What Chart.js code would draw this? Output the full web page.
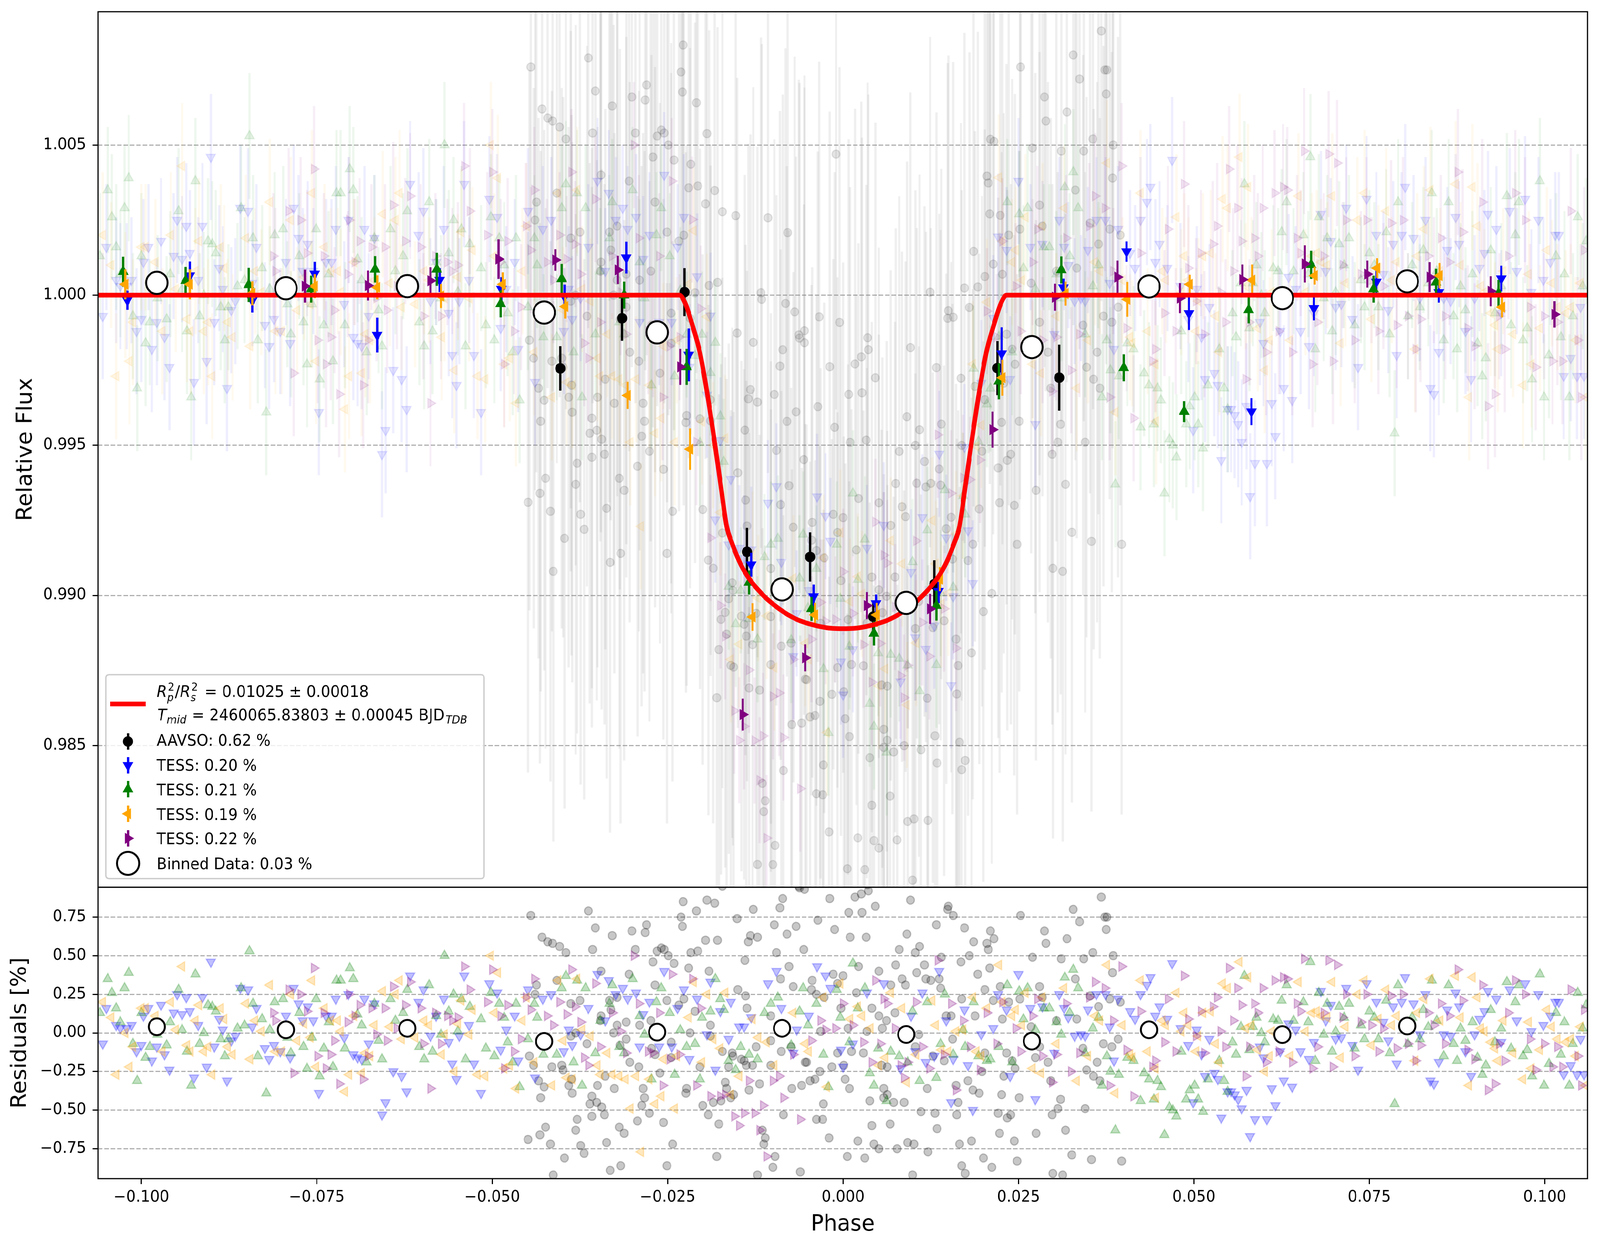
<!DOCTYPE html>
<html>
<head>
<meta charset="utf-8">
<title>Transit light curve</title>
<script src="https://cdn.jsdelivr.net/npm/chart.js@4.4.1/dist/chart.umd.min.js"></script>
<style>
  html, body { margin:0; padding:0; background:#ffffff; overflow:hidden; }
  #wrap { position:absolute; left:0; top:0; width:4250px; height:3192px; background:#ffffff; overflow:hidden; transform-origin:0 0; }
  #cTop { position:absolute; left:0; top:0; width:4250px; height:2274px; }
  #cBot { position:absolute; left:0; top:2271px; width:4250px; height:921px; }
</style>
</head>
<body>
<div id="wrap">
  <canvas id="cTop" width="4250" height="2274"></canvas>
  <canvas id="cBot" width="4250" height="921"></canvas>
</div>
<script>
// ---------------- axes ----------------
const phaseRange = [-0.1062, 0.1061];
const fluxRange  = [0.98028, 1.00944];
const residRange = [-0.9436, 0.9436];
const phaseTicks = [-0.100, -0.075, -0.050, -0.025, 0.000, 0.025, 0.050, 0.075, 0.100];
const fluxTicks  = [0.985, 0.990, 0.995, 1.000, 1.005];
const residTicks = [-0.75, -0.50, -0.25, 0.00, 0.25, 0.50, 0.75];

// ---------------- transit model ----------------
const modelPhase = [-0.1062,-0.0233,-0.0225,-0.0215,-0.0204,-0.0194,-0.0184,-0.0174,-0.0166,-0.0158,-0.0143,-0.0117,-0.0091,-0.0066,-0.0040,-0.0015,0.0000,0.0015,0.0040,0.0066,0.0091,0.0117,0.0143,0.0158,0.0166,0.0174,0.0184,0.0194,0.0204,0.0215,0.0225,0.0233,0.1061];
const modelFlux  = [1.00000,1.00000,0.99973,0.99902,0.99808,0.99678,0.99525,0.99360,0.99231,0.99172,0.99090,0.99008,0.98955,0.98920,0.98900,0.98890,0.98889,0.98890,0.98900,0.98920,0.98955,0.99008,0.99090,0.99172,0.99231,0.99360,0.99525,0.99678,0.99808,0.99902,0.99973,1.00000,1.00000];

// ---------------- binned data (white circles) ----------------
const binnedPhase = [-0.0978,-0.0794,-0.0621,-0.0426,-0.0265,-0.0087,0.0090,0.0269,0.0436,0.0626,0.0804];
const binnedFlux  = [1.00041,1.00023,1.00030,0.99942,0.99876,0.99020,0.98975,0.99827,1.00029,0.99990,1.00046];
const binnedResid = [0.040,0.020,0.030,-0.055,0.005,0.030,-0.010,-0.053,0.020,-0.011,0.045];

// ---------------- per-series binned points [phase, flux, err] ----------------
const aavsoBinned = [[-0.0403,0.99756,0.00074],[-0.0315,0.99923,0.00075],[-0.0226,1.00010,0.00080],[-0.0137,0.99145,0.00080],[-0.0047,0.99128,0.00082],[0.0043,0.98929,0.00050],[0.0130,0.99037,0.00080],[0.0220,0.99757,0.00090],[0.0308,0.99725,0.00110]];
const tessBlueBinned = [[-0.1020,0.99983,0.00032],[-0.0931,1.00065,0.00047],[-0.0842,0.99982,0.00040],[-0.0753,1.00071,0.00040],[-0.0664,0.99867,0.00058],[-0.0575,1.00050,0.00040],[-0.0487,1.00020,0.00040],[-0.0397,0.99995,0.00040],[-0.0309,1.00125,0.00053],[-0.0220,0.99801,0.00088],[-0.0131,0.99102,0.00040],[-0.0042,0.98996,0.00040],[0.0047,0.98973,0.00030],[0.0136,0.99014,0.00040],[0.0226,0.99805,0.00088],[0.0314,1.00025,0.00030],[0.0404,1.00145,0.00034],[0.0493,0.99939,0.00055],[0.0582,0.99612,0.00045],[0.0671,0.99956,0.00040],[0.0760,1.00044,0.00043],[0.0849,1.00009,0.00034],[0.0938,1.00055,0.00043]];
const tessGreenBinned = [[-0.1026,1.00078,0.00050],[-0.0937,1.00048,0.00046],[-0.0847,1.00034,0.00057],[-0.0758,1.00020,0.00045],[-0.0667,1.00086,0.00044],[-0.0579,1.00086,0.00055],[-0.0488,0.99971,0.00045],[-0.0401,1.00054,0.00050],[-0.0312,1.00000,0.00045],[-0.0223,0.99761,0.00060],[-0.0134,0.99043,0.00040],[-0.0045,0.98955,0.00040],[0.0044,0.98873,0.00040],[0.0133,0.98966,0.00050],[0.0222,0.99713,0.00060],[0.0311,1.00084,0.00045],[0.0400,0.99758,0.00045],[0.0486,0.99612,0.00035],[0.0578,0.99951,0.00045],[0.0667,1.00101,0.00047],[0.0756,1.00020,0.00045],[0.0845,1.00043,0.00045],[0.0934,1.00006,0.00045]];
const tessOrangeBinned = [[-0.1023,1.00036,0.00050],[-0.0931,1.00036,0.00050],[-0.0842,1.00006,0.00040],[-0.0753,1.00030,0.00040],[-0.0664,1.00026,0.00040],[-0.0573,0.99997,0.00040],[-0.0485,1.00036,0.00040],[-0.0396,0.99962,0.00040],[-0.0307,0.99666,0.00045],[-0.0218,0.99487,0.00069],[-0.0129,0.98928,0.00046],[-0.0040,0.98935,0.00040],[0.0048,0.98935,0.00040],[0.0138,0.99054,0.00040],[0.0227,0.99725,0.00060],[0.0317,1.00005,0.00040],[0.0405,0.99986,0.00058],[0.0494,1.00036,0.00032],[0.0583,1.00050,0.00052],[0.0672,1.00065,0.00030],[0.0761,1.00090,0.00033],[0.0850,1.00065,0.00042],[0.0939,0.99960,0.00034]];
const tessPurpleBinned = [[-0.0767,1.00030,0.00055],[-0.0677,1.00032,0.00050],[-0.0588,1.00048,0.00045],[-0.0491,1.00120,0.00066],[-0.0410,1.00117,0.00036],[-0.0321,1.00084,0.00047],[-0.0232,0.99761,0.00060],[-0.0143,0.98603,0.00053],[-0.0054,0.98792,0.00045],[0.0034,0.98966,0.00045],[0.0124,0.98955,0.00050],[0.0213,0.99552,0.00060],[0.0302,0.99993,0.00045],[0.0391,1.00060,0.00055],[0.0480,0.99990,0.00050],[0.0569,1.00052,0.00050],[0.0658,1.00104,0.00062],[0.0747,1.00070,0.00045],[0.0836,1.00060,0.00050],[0.0923,1.00013,0.00050],[0.1014,0.99936,0.00044]];

// ---------------- residuals of individual points [phase, residual %] ----------------
// (AAVSO values above ~0.94 % lie outside the residual panel and only show in the top panel)
const aavsoResid = [
[-0.0445,0.76],[-0.0429,0.62],[-0.0421,0.59],[-0.0414,0.58],[-0.0404,0.56],[-0.0395,0.52],[-0.0363,0.79],[-0.0353,0.68],[-0.0329,0.63],[-0.0357,0.54],[-0.0345,0.40],[-0.0305,0.38],[-0.0301,0.66],[-0.0280,0.70],[-0.0282,0.65],[-0.0296,0.54],[-0.0271,0.46],[-0.0265,0.53],[-0.0259,0.55],[-0.0255,0.54],[-0.0249,0.50],[-0.0241,0.45],[-0.0228,0.85],[-0.0231,0.75],[-0.0229,0.69],[-0.0209,0.79],[-0.0194,0.86],[-0.0183,0.84],[-0.0217,0.52],[-0.0207,0.53],[-0.0196,0.60],[-0.0179,0.60],[-0.0220,0.42],[-0.0191,0.40],[-0.0151,0.74],[-0.0128,0.80],[-0.0132,0.63],[-0.0122,0.62],[-0.0135,0.59],[-0.0140,0.47],[-0.0095,0.52],[-0.0098,0.70],[-0.0086,0.87],[-0.0090,0.81],[-0.0080,0.64],[-0.0067,0.69],[-0.0056,0.54],[-0.0077,0.43],[-0.0089,0.35],[-0.0062,0.94],[-0.0055,0.93],[-0.0036,0.73],[-0.0019,0.87],[-0.0012,0.67],[-0.0014,0.38],[-0.0008,0.32],[-0.0044,0.34],[-0.0071,0.30],[-0.0045,0.28],[-0.0038,0.25],[-0.0027,0.23],[-0.0003,0.16],
[-0.0408,0.34],[-0.0437,0.31],[-0.0439,0.25],[-0.0388,0.19],[-0.0375,0.21],[-0.0345,0.11],[-0.0333,0.21],[-0.0331,0.15],[-0.0322,0.23],[-0.0346,0.08],[-0.0309,0.07],[-0.0322,0.05],[-0.0290,0.05],[-0.0274,0.08],[-0.0268,0.31],[-0.0251,0.21],[-0.0234,0.18],[-0.0227,0.22],[-0.0211,0.14],[-0.0189,0.05],[-0.0150,0.28],[-0.0139,0.24],[-0.0137,0.16],[-0.0103,0.11],[-0.0032,0.01],
[0.0001,-0.21],[-0.0447,-0.15],[-0.0441,-0.21],[-0.0434,-0.31],[-0.0426,-0.35],[-0.0431,-0.42],[-0.0449,-0.69],[-0.0432,-0.66],[-0.0424,-0.61],[-0.0417,-0.72],[-0.0415,-0.22],[-0.0401,-0.21],[-0.0399,-0.24],[-0.0397,-0.81],[-0.0413,-0.92],[-0.0391,-0.34],[-0.0386,-0.39],[-0.0387,-0.30],[-0.0379,-0.56],[-0.0381,-0.63],[-0.0374,-0.73],[-0.0369,-0.78],[-0.0365,-0.07],[-0.0361,-0.46],[-0.0358,-0.41],[-0.0351,-0.45],[-0.0344,-0.48],[-0.0340,-0.53],[-0.0358,-0.54],[-0.0350,-0.34],[-0.0339,-0.28],[-0.0337,-0.71],[-0.0332,-0.89],[-0.0319,-0.61],[-0.0312,-0.65],[-0.0317,-0.86],[-0.0326,-0.36],[-0.0304,-0.19],[-0.0291,-0.22],[-0.0285,-0.36],[-0.0283,-0.42],[-0.0287,-0.47],[-0.0276,-0.52],[-0.0293,-0.57],[-0.0256,-0.58],[-0.0251,-0.86],[-0.0243,-0.72],[-0.0261,-0.26],[-0.0245,-0.16],[-0.0223,-0.36],[-0.0224,-0.39],[-0.0204,-0.22],[-0.0200,-0.47],[-0.0192,-0.53],[-0.0185,-0.45],[-0.0177,-0.59],[-0.0174,-0.44],[-0.0168,-0.32],[-0.0166,-0.36],[-0.0160,-0.42],[-0.0156,-0.40],[-0.0180,-0.80],[-0.0163,-0.22],[-0.0157,-0.15],[-0.0141,-0.18],[-0.0134,-0.37],[-0.0129,-0.21],[-0.0119,-0.33],[-0.0115,-0.63],[-0.0111,-0.68],[-0.0113,-0.72],[-0.0122,-0.92],[-0.0100,-0.87],[-0.0097,-0.80],[-0.0085,-0.53],[-0.0073,-0.36],[-0.0059,-0.34],[-0.0052,-0.19],[-0.0047,-0.31],[-0.0040,-0.30],[-0.0033,-0.25],[-0.0028,-0.46],[-0.0038,-0.56],[-0.0029,-0.56],[-0.0020,-0.68],[-0.0061,-0.90],[-0.0016,-0.22],[-0.0008,-0.13],
[-0.0309,-0.04],[-0.0268,-0.14],[-0.0172,-0.12],[-0.0138,-0.21],[-0.0124,-0.09],[-0.0103,-0.05],[-0.0088,-0.12],[-0.0074,-0.09],[-0.0054,-0.19],[-0.0388,-0.02],[-0.0381,0.00],[-0.0327,0.00],[-0.0318,-0.08],[-0.0273,-0.10],[-0.0245,-0.06],[-0.0218,0.00],[-0.0189,-0.02],[-0.0158,-0.13],[-0.0145,-0.17],[-0.0103,-0.21],
[0.0017,0.88],[0.0026,0.90],[0.0036,0.92],[0.0008,0.78],[0.0027,0.78],[0.0046,0.82],[0.0096,0.86],[0.0150,0.82],[0.0149,0.80],[0.0157,0.76],[0.0253,0.76],[0.0328,0.80],[0.0368,0.88],[0.0373,0.75],[0.0376,0.75],[0.0375,0.67],[0.0337,0.72],[0.0010,0.62],[0.0033,0.62],[0.0091,0.64],[0.0133,0.70],[0.0173,0.68],[0.0210,0.66],[0.0215,0.61],[0.0186,0.59],[0.0205,0.58],[0.0207,0.54],[0.0287,0.66],[0.0289,0.58],[0.0319,0.61],[0.0080,0.54],[0.0109,0.56],[0.0103,0.52],[0.0140,0.49],[0.0180,0.50],[0.0270,0.49],[0.0311,0.48],[0.0343,0.48],[0.0356,0.52],[0.0385,0.50],[0.0022,0.43],[0.0051,0.40],[0.0075,0.44],[0.0116,0.44],[0.0105,0.39],[0.0168,0.46],[0.0209,0.42],[0.0192,0.38],[0.0384,0.39],[0.0000,0.37],[0.0084,0.35],[0.0089,0.31],[0.0118,0.35],[0.0125,0.34],[0.0137,0.35],[0.0139,0.29],[0.0068,0.31],[0.0331,0.35],[0.0019,0.26],[0.0202,0.28],[0.0224,0.30],[0.0280,0.30],[0.0169,0.22],[0.0214,0.21],[0.0236,0.20],[0.0252,0.22],[0.0284,0.23],[0.0352,0.24],[0.0380,0.22],[0.0395,0.20],[0.0364,0.17],[0.0041,0.16],[0.0051,0.11],[0.0062,0.08],[0.0074,0.13],[0.0056,0.03],[0.0147,0.11],[0.0154,0.11],[0.0188,0.11],[0.0227,0.09],[0.0304,0.08],[0.0333,0.09],[0.0007,0.03],[0.0034,0.01],[0.0108,-0.01],[0.0156,-0.04],[0.0268,0.04],[0.0280,-0.09],[0.0371,-0.07],[0.0383,-0.09],[0.0392,-0.04],[0.0012,-0.12],[0.0029,-0.13],[0.0103,-0.09],[0.0202,-0.13],[0.0233,-0.13],[0.0274,-0.16],[0.0292,-0.19],[0.0342,-0.10],[0.0362,-0.19],[0.0063,-0.22],[0.0055,-0.21],[0.0128,-0.15],[0.0144,-0.18],[0.0241,-0.18],[0.0245,-0.23],[0.0198,-0.25],[0.0347,-0.24],[0.0003,-0.30],[0.0009,-0.36],[0.0058,-0.36],[0.0120,-0.36],[0.0178,-0.31],[0.0161,-0.34],[0.0185,-0.37],[0.0194,-0.39],[0.0229,-0.28],[0.0296,-0.31],[0.0357,-0.28],[0.0366,-0.31],[0.0058,-0.42],[0.0063,-0.40],[0.0038,-0.44],[0.0072,-0.45],[0.0087,-0.45],[0.0164,-0.45],[0.0226,-0.40],[0.0251,-0.42],[0.0310,-0.43],[0.0306,-0.49],[0.0111,-0.51],[0.0131,-0.52],[0.0162,-0.53],[0.0221,-0.52],[0.0239,-0.53],[0.0234,-0.55],[0.0298,-0.53],[0.0345,-0.49],[0.0041,-0.60],[0.0067,-0.59],[0.0134,-0.62],[0.0223,-0.65],[0.0275,-0.65],[0.0317,-0.63],[0.0021,-0.70],[0.0044,-0.72],[0.0051,-0.75],[0.0077,-0.75],[0.0092,-0.71],[0.0101,-0.72],[0.0166,-0.72],[0.0183,-0.70],[0.0244,-0.70],[0.0121,-0.77],[0.0006,-0.80],[0.0031,-0.81],[0.0200,-0.81],[0.0248,-0.83],[0.0326,-0.79],[0.0354,-0.82],[0.0397,-0.83],[0.0169,-0.86],[0.0212,-0.87],[0.0099,-0.92],[0.0174,-0.91],[0.0299,-0.91],[0.0313,-0.92],
[-0.0010,1.58],[-0.0172,0.95],[-0.0153,1.12],[-0.0107,1.27],[-0.0079,1.27],[-0.0034,1.03],[-0.0005,1.02],[-0.0117,1.00],[-0.0116,0.98],[-0.0082,1.03],[-0.0069,1.02],[-0.0063,0.95],[-0.0055,0.97],[0.0035,0.96],[0.0124,0.98]
];
const tessBlueResid = [
[-0.1055,-0.07],[-0.1050,0.16],[-0.1036,0.05],[-0.1030,0.03],[-0.1021,0.03],[-0.1014,0.05],[-0.1007,-0.12],[-0.1000,-0.08],[-0.0997,0.11],[-0.0990,0.16],[-0.0985,-0.18],[-0.0978,-0.09],[-0.0972,0.18],[-0.0967,-0.14],[-0.0960,-0.24],[-0.0954,0.13],[-0.0949,0.25],[-0.0942,0.12],[-0.0936,0.23],[-0.0931,0.14],[-0.0925,-0.29],[-0.0919,0.05],[-0.0913,0.23],[-0.0907,-0.22],[-0.0901,0.46],[-0.0896,-0.09],[-0.0889,0.09],[-0.0884,0.02],[-0.0878,-0.31],[-0.0872,-0.05],[-0.0866,-0.02],[-0.0859,0.29],[-0.0848,0.28],[-0.0842,0.04],[-0.0836,0.16],[-0.0824,-0.10],[-0.0818,-0.17],[-0.0811,-0.08],[-0.0802,-0.12],[-0.0794,0.11],[-0.0788,-0.16],[-0.0783,0.29],[-0.0776,0.19],[-0.0770,0.08],[-0.0763,0.17],[-0.0755,0.08],[-0.0747,-0.39],[-0.0737,0.11],[-0.0729,0.11],[-0.0723,0.22],[-0.0711,-0.03],[-0.0705,0.25],[-0.0698,-0.14],[-0.0692,-0.16],[-0.0686,-0.17],[-0.0682,0.22],[-0.0676,-0.07],[-0.0668,0.19],[-0.0657,-0.53],[-0.0652,-0.45],[-0.0641,-0.25],[-0.0629,-0.28],[-0.0622,-0.38],[-0.0617,0.37],[-0.0605,0.20],[-0.0598,0.28],[-0.0588,-0.02],[-0.0580,0.11],[-0.0569,0.22],[-0.0562,-0.06],[-0.0557,-0.20],[-0.0551,-0.30],[-0.0547,-0.02],[-0.0540,0.37],[-0.0533,0.05],[-0.0526,-0.20],
[-0.0516,-0.39],[-0.0504,0.32],[-0.0493,0.26],[-0.0488,-0.11],[-0.0480,0.02],[-0.0468,0.11],[-0.0463,-0.18],[-0.0449,0.28],[-0.0439,-0.29],[-0.0428,0.22],[-0.0416,0.25],[-0.0398,-0.12],[-0.0391,0.02],[-0.0386,-0.08],[-0.0374,-0.01],[-0.0363,0.16],[-0.0350,0.38],[-0.0339,0.08],[-0.0334,0.34],[-0.0324,0.25],[-0.0314,0.29],[-0.0307,0.22],[-0.0295,0.26],[-0.0290,-0.09],[-0.0285,0.12],[-0.0276,0.20],[-0.0262,-0.09],[-0.0255,0.40],[-0.0244,-0.09],[-0.0236,0.16],[-0.0227,0.28],[-0.0219,-0.17],[-0.0208,0.22],[-0.0194,-0.01],[-0.0189,0.33],[-0.0182,-0.24],[-0.0175,0.14],[-0.0163,-0.04],[-0.0160,0.20],[-0.0148,0.04],[-0.0141,0.04],[-0.0131,0.10],[-0.0107,0.32],[-0.0095,0.40],[-0.0088,0.16],[-0.0071,-0.13],[-0.0066,0.02],[-0.0049,0.11],[-0.0037,0.43],[-0.0025,0.37],[-0.0018,0.29],[-0.0003,-0.11],
[0.0000,-0.22],[0.0014,-0.07],[0.0034,0.26],[0.0058,0.32],[0.0082,-0.23],[0.0097,0.11],[0.0103,-0.12],[0.0113,0.26],[0.0137,0.40],[0.0118,-0.19],[0.0130,-0.15],[0.0147,0.08],[0.0157,-0.17],[0.0173,0.15],[0.0178,-0.21],[0.0185,-0.50],[0.0154,-0.45],[0.0197,-0.01],[0.0214,0.03],[0.0221,0.25],[0.0233,0.15],[0.0238,-0.28],[0.0250,0.38],[0.0267,0.16],[0.0274,-0.43],[0.0284,0.17],[0.0301,-0.13],[0.0308,0.25],[0.0315,0.16],[0.0321,0.10],[0.0330,-0.02],[0.0339,-0.01],[0.0345,-0.02],[0.0349,0.15],[0.0361,0.25],[0.0374,0.25],[0.0380,0.04],[0.0386,-0.18],[0.0392,0.22],[0.0409,0.14],[0.0416,0.09],[0.0424,0.25],[0.0433,0.31],[0.0438,0.36],[0.0445,0.11],[0.0451,0.17],[0.0462,0.09],[0.0469,0.45],[0.0481,0.03],[0.0492,-0.08],[0.0499,-0.45],[0.0504,0.02],[0.0511,-0.14],[0.0516,-0.28],[0.0522,-0.04],
[0.0529,-0.26],[0.0534,-0.30],[0.0539,-0.55],[0.0548,-0.38],[0.0553,-0.38],[0.0558,-0.40],[0.0563,-0.43],[0.0568,-0.49],[0.0575,-0.37],[0.0580,-0.67],[0.0587,-0.56],[0.0594,-0.09],[0.0599,-0.16],[0.0604,-0.56],[0.0611,-0.36],[0.0616,-0.47],[0.0623,-0.12],[0.0628,-0.31],[0.0635,0.06],[0.0640,-0.35],[0.0645,0.02],[0.0652,-0.12],[0.0664,-0.17],[0.0671,-0.06],[0.0681,0.27],[0.0688,0.08],[0.0695,0.18],[0.0702,-0.04],[0.0710,-0.03],[0.0717,0.29],[0.0726,-0.08],[0.0734,-0.24],[0.0746,0.32],[0.0760,0.20],[0.0770,0.07],[0.0777,-0.05],[0.0784,0.17],[0.0789,-0.20],[0.0796,0.20],[0.0801,0.36],[0.0813,0.19],[0.0822,-0.01],[0.0830,0.25],[0.0837,-0.31],[0.0842,-0.33],[0.0849,-0.19],[0.0856,-0.01],[0.0861,0.15],[0.0866,-0.02],[0.0873,0.26],[0.0878,0.17],[0.0887,-0.12],[0.0895,-0.28],[0.0900,-0.01],[0.0907,0.09],[0.0914,0.14],[0.0919,0.27],[0.0931,0.22],[0.0938,-0.06],[0.0950,0.28],[0.0960,0.08],[0.0972,0.32],[0.0981,0.01],[0.0991,0.25],[0.0998,0.05],[0.1008,0.11],[0.1015,0.20],[0.1020,0.20],[0.1027,-0.27],[0.1037,-0.21],[0.1046,-0.27],[0.1051,-0.04],[0.1056,-0.27]
];
const tessGreenResid = [
[-0.1059,0.13],[-0.1048,0.35],[-0.1042,0.26],[-0.1036,0.16],[-0.1030,0.07],[-0.1024,0.29],[-0.1018,0.39],[-0.1012,-0.07],[-0.1006,-0.31],[-0.1000,0.13],[-0.0994,-0.16],[-0.0988,-0.09],[-0.0977,-0.01],[-0.0964,-0.08],[-0.0959,0.07],[-0.0947,0.28],[-0.0942,0.02],[-0.0935,-0.12],[-0.0929,-0.34],[-0.0923,0.38],[-0.0917,-0.07],[-0.0911,0.00],[-0.0905,0.18],[-0.0899,0.17],[-0.0894,0.14],[-0.0887,-0.04],[-0.0881,-0.15],[-0.0876,-0.04],[-0.0863,0.03],[-0.0858,0.29],[-0.0853,0.05],[-0.0846,0.53],[-0.0841,0.19],[-0.0834,-0.15],[-0.0828,0.09],[-0.0822,-0.39],[-0.0817,0.02],[-0.0810,0.20],[-0.0798,0.22],[-0.0792,-0.03],[-0.0787,-0.13],[-0.0775,0.13],[-0.0769,-0.09],[-0.0764,-0.23],[-0.0757,-0.03],[-0.0751,0.22],[-0.0746,-0.28],[-0.0740,-0.10],[-0.0733,0.07],[-0.0727,-0.22],[-0.0722,0.34],[-0.0716,0.34],[-0.0710,-0.10],[-0.0703,0.42],[-0.0698,0.35],[-0.0692,0.12],[-0.0686,0.05],[-0.0679,-0.19],[-0.0668,0.19],[-0.0662,-0.05],[-0.0657,-0.17],[-0.0645,0.22],[-0.0638,0.08],[-0.0627,0.13],[-0.0621,0.28],[-0.0604,-0.09],[-0.0597,-0.17],[-0.0590,0.31],[-0.0585,-0.12],[-0.0580,0.11],[-0.0573,-0.01],[-0.0568,0.50],[-0.0562,0.14],[-0.0555,0.25],[-0.0549,0.01],[-0.0544,0.22],[-0.0538,-0.17],[-0.0532,0.17],
[-0.0516,0.09],[-0.0509,-0.10],[-0.0502,0.26],[-0.0497,-0.15],[-0.0490,0.19],[-0.0483,0.10],[-0.0478,-0.06],[-0.0471,-0.19],[-0.0466,0.19],[-0.0461,-0.35],[-0.0449,-0.04],[-0.0440,0.19],[-0.0436,0.10],[-0.0427,-0.14],[-0.0408,-0.14],[-0.0401,0.29],[-0.0395,0.37],[-0.0384,-0.19],[-0.0379,0.34],[-0.0372,-0.34],[-0.0367,0.29],[-0.0353,-0.13],[-0.0346,0.08],[-0.0333,0.19],[-0.0329,0.31],[-0.0319,-0.09],[-0.0312,-0.13],[-0.0300,0.35],[-0.0290,0.11],[-0.0283,-0.01],[-0.0273,-0.30],[-0.0266,0.20],[-0.0259,0.29],[-0.0247,0.13],[-0.0240,-0.27],[-0.0232,0.02],[-0.0223,-0.09],[-0.0211,-0.07],[-0.0204,-0.30],[-0.0201,0.10],[-0.0189,0.14],[-0.0182,0.35],[-0.0175,0.22],[-0.0170,0.15],[-0.0163,-0.18],[-0.0153,-0.24],[-0.0146,-0.09],[-0.0134,-0.14],[-0.0122,-0.17],[-0.0112,0.13],[-0.0103,0.19],[-0.0093,0.23],[-0.0074,-0.08],[-0.0062,0.14],[-0.0057,0.29],[-0.0050,0.05],[-0.0038,0.19],[-0.0028,-0.14],[-0.0021,-0.35],[-0.0009,0.28],[-0.0004,0.10],
[0.0009,-0.06],[0.0014,0.45],[0.0021,0.16],[0.0031,0.29],[0.0038,-0.26],[0.0044,-0.34],[0.0050,-0.10],[0.0062,-0.44],[0.0068,-0.12],[0.0080,-0.15],[0.0092,-0.19],[0.0099,0.14],[0.0109,-0.31],[0.0120,0.20],[0.0133,-0.29],[0.0139,-0.07],[0.0145,0.25],[0.0157,-0.14],[0.0171,0.02],[0.0174,-0.09],[0.0186,0.20],[0.0193,-0.15],[0.0205,-0.18],[0.0210,-0.17],[0.0222,-0.09],[0.0234,0.31],[0.0241,-0.19],[0.0251,0.27],[0.0257,0.09],[0.0263,0.29],[0.0274,0.02],[0.0286,0.16],[0.0294,0.16],[0.0304,0.07],[0.0311,-0.01],[0.0316,0.36],[0.0323,0.13],[0.0328,0.41],[0.0335,0.29],[0.0345,-0.13],[0.0356,0.03],[0.0364,0.10],[0.0369,-0.34],[0.0376,-0.15],[0.0381,-0.25],[0.0388,-0.63],[0.0393,-0.27],[0.0405,-0.16],[0.0414,-0.18],[0.0424,-0.44],[0.0429,-0.26],[0.0436,-0.30],[0.0443,-0.43],[0.0448,-0.31],[0.0453,-0.35],[0.0458,-0.66],[0.0465,-0.48],[0.0470,-0.50],[0.0475,-0.54],[0.0482,-0.12],[0.0489,-0.43],[0.0494,-0.37],[0.0501,-0.34],[0.0506,-0.43],[0.0513,-0.51],[0.0520,-0.30],
[0.0536,-0.18],[0.0543,-0.31],[0.0548,-0.38],[0.0555,-0.06],[0.0560,-0.14],[0.0567,0.04],[0.0572,0.37],[0.0579,-0.11],[0.0584,0.04],[0.0589,0.10],[0.0596,0.00],[0.0601,-0.06],[0.0613,0.09],[0.0620,0.08],[0.0625,0.21],[0.0632,0.31],[0.0642,0.08],[0.0656,0.20],[0.0663,0.07],[0.0666,0.46],[0.0673,-0.18],[0.0678,0.26],[0.0685,-0.01],[0.0690,0.19],[0.0697,-0.12],[0.0702,0.01],[0.0707,0.17],[0.0714,0.10],[0.0721,0.19],[0.0729,-0.10],[0.0738,0.05],[0.0743,-0.04],[0.0750,0.14],[0.0757,0.10],[0.0763,-0.04],[0.0774,0.21],[0.0779,-0.13],[0.0786,-0.46],[0.0791,0.31],[0.0805,-0.07],[0.0811,0.10],[0.0822,-0.04],[0.0827,0.15],[0.0834,0.04],[0.0839,0.34],[0.0846,0.08],[0.0856,-0.15],[0.0863,0.31],[0.0870,-0.07],[0.0875,-0.18],[0.0880,0.03],[0.0887,-0.05],[0.0897,0.07],[0.0904,-0.16],[0.0911,-0.27],[0.0916,-0.21],[0.0923,0.15],[0.0929,-0.06],[0.0938,0.03],[0.0946,0.33],[0.0952,-0.10],[0.0958,0.20],[0.0963,0.31],[0.0969,-0.15],[0.0975,-0.11],[0.0982,-0.28],[0.0993,0.38],[0.0999,-0.34],[0.1006,-0.20],[0.1016,0.13],[0.1023,-0.14],[0.1028,0.07],[0.1035,-0.34],[0.1040,-0.07],[0.1047,0.26],[0.1054,0.03],[0.1059,0.18]
];
const tessOrangeResid = [
[-0.1055,0.20],[-0.1043,0.10],[-0.1036,-0.27],[-0.1023,0.00],[-0.1017,-0.22],[-0.1012,-0.09],[-0.1000,0.16],[-0.0994,0.16],[-0.0980,0.11],[-0.0970,-0.12],[-0.0958,0.20],[-0.0951,0.02],[-0.0942,0.43],[-0.0935,-0.08],[-0.0930,-0.12],[-0.0923,0.08],[-0.0918,0.18],[-0.0911,-0.12],[-0.0905,-0.09],[-0.0899,-0.27],[-0.0887,0.16],[-0.0882,0.09],[-0.0877,-0.09],[-0.0870,-0.14],[-0.0851,0.19],[-0.0845,-0.17],[-0.0838,0.08],[-0.0829,0.01],[-0.0817,0.31],[-0.0809,-0.12],[-0.0800,-0.12],[-0.0787,0.25],[-0.0778,-0.05],[-0.0768,0.06],[-0.0759,-0.03],[-0.0757,0.34],[-0.0751,-0.22],[-0.0739,0.16],[-0.0730,0.08],[-0.0720,0.08],[-0.0716,0.01],[-0.0710,-0.38],[-0.0704,-0.27],[-0.0697,0.11],[-0.0686,-0.26],[-0.0681,-0.13],[-0.0674,-0.15],[-0.0668,0.05],[-0.0656,0.27],[-0.0646,0.04],[-0.0638,0.25],[-0.0632,0.34],[-0.0629,-0.04],[-0.0610,-0.03],[-0.0597,0.08],[-0.0590,0.05],[-0.0572,-0.14],[-0.0568,-0.01],[-0.0554,-0.25],[-0.0549,0.06],[-0.0544,0.21],[-0.0533,-0.01],
[-0.0528,0.15],[-0.0521,-0.27],[-0.0510,-0.28],[-0.0502,0.50],[-0.0497,0.13],[-0.0492,0.39],[-0.0483,-0.23],[-0.0475,-0.21],[-0.0466,-0.36],[-0.0457,0.08],[-0.0451,0.23],[-0.0440,-0.19],[-0.0415,-0.34],[-0.0406,0.34],[-0.0399,-0.05],[-0.0394,-0.29],[-0.0386,-0.30],[-0.0379,0.35],[-0.0372,0.02],[-0.0360,-0.02],[-0.0350,-0.21],[-0.0346,-0.27],[-0.0336,-0.13],[-0.0329,-0.27],[-0.0319,-0.28],[-0.0310,-0.30],[-0.0303,-0.49],[-0.0295,-0.28],[-0.0288,-0.77],[-0.0276,-0.30],[-0.0268,-0.46],[-0.0259,-0.41],[-0.0256,-0.17],[-0.0240,-0.49],[-0.0237,-0.15],[-0.0220,0.10],[-0.0213,0.33],[-0.0201,-0.19],[-0.0194,0.25],[-0.0185,-0.04],[-0.0175,-0.10],[-0.0168,0.26],[-0.0160,-0.40],[-0.0148,-0.28],[-0.0129,0.09],[-0.0121,-0.03],[-0.0109,-0.06],[-0.0098,-0.21],[-0.0071,0.13],[-0.0054,-0.07],[-0.0049,-0.12],[-0.0028,0.23],[-0.0023,-0.35],[-0.0004,0.32],
[0.0010,0.09],[0.0021,0.17],[0.0027,0.11],[0.0039,0.03],[0.0051,-0.21],[0.0060,-0.16],[0.0068,0.26],[0.0084,0.16],[0.0091,-0.32],[0.0104,-0.14],[0.0127,0.21],[0.0132,0.05],[0.0140,-0.11],[0.0150,-0.12],[0.0161,0.01],[0.0171,0.02],[0.0185,0.23],[0.0190,-0.12],[0.0197,-0.15],[0.0205,0.16],[0.0222,0.44],[0.0227,0.20],[0.0241,0.11],[0.0246,0.15],[0.0255,0.05],[0.0260,0.26],[0.0270,-0.23],[0.0282,-0.26],[0.0284,0.23],[0.0304,-0.07],[0.0315,0.29],[0.0333,-0.31],[0.0349,-0.15],[0.0359,0.11],[0.0366,0.08],[0.0376,0.44],[0.0388,-0.39],[0.0398,0.05],[0.0409,-0.14],[0.0412,-0.16],[0.0424,0.34],[0.0434,-0.12],[0.0445,-0.23],[0.0446,-0.42],[0.0455,0.08],[0.0460,0.05],[0.0475,0.26],[0.0482,0.01],[0.0486,0.13],[0.0492,0.05],[0.0503,-0.12],[0.0506,-0.02],[0.0513,0.13],
[0.0524,0.14],[0.0531,-0.07],[0.0536,-0.19],[0.0541,0.32],[0.0548,0.29],[0.0565,0.46],[0.0574,0.03],[0.0577,0.36],[0.0582,0.05],[0.0591,-0.11],[0.0601,-0.25],[0.0608,-0.15],[0.0611,0.01],[0.0637,-0.15],[0.0649,0.33],[0.0659,0.01],[0.0668,0.13],[0.0675,0.14],[0.0681,0.11],[0.0690,0.10],[0.0697,0.33],[0.0709,-0.16],[0.0716,0.04],[0.0733,0.25],[0.0743,0.34],[0.0753,-0.08],[0.0763,0.09],[0.0774,0.28],[0.0782,0.05],[0.0789,0.11],[0.0815,-0.18],[0.0818,0.13],[0.0828,0.22],[0.0837,0.35],[0.0851,0.08],[0.0873,0.37],[0.0880,0.10],[0.0892,-0.34],[0.0897,0.36],[0.0904,0.23],[0.0909,0.03],[0.0914,0.01],[0.0923,-0.06],[0.0929,-0.10],[0.0933,-0.18],[0.0941,0.08],[0.0955,-0.13],[0.0969,-0.30],[0.0977,0.07],[0.0981,-0.23],[0.0993,-0.11],[0.1003,0.15],[0.1010,0.04],[0.1018,-0.04],[0.1030,-0.06],[0.1037,-0.04],[0.1044,-0.15],[0.1051,0.04],[0.1058,-0.34]
];
const tessPurpleResid = [
[-0.0812,0.13],[-0.0809,0.08],[-0.0790,0.28],[-0.0783,-0.26],[-0.0773,0.25],[-0.0764,0.14],[-0.0754,0.42],[-0.0749,-0.15],[-0.0740,0.13],[-0.0737,-0.23],[-0.0730,-0.14],[-0.0725,-0.05],[-0.0718,-0.33],[-0.0706,0.07],[-0.0704,0.25],[-0.0696,0.11],[-0.0689,0.18],[-0.0684,-0.30],[-0.0677,-0.15],[-0.0672,0.16],[-0.0665,-0.01],[-0.0653,0.16],[-0.0650,-0.05],[-0.0641,0.30],[-0.0636,0.03],[-0.0624,0.18],[-0.0617,0.33],[-0.0602,0.16],[-0.0598,-0.07],[-0.0588,-0.36],[-0.0581,0.13],[-0.0573,-0.07],[-0.0564,0.11],[-0.0557,0.08],[-0.0549,0.10],[-0.0540,0.43],[-0.0532,0.28],
[-0.0507,0.20],[-0.0500,0.41],[-0.0488,0.11],[-0.0483,-0.23],[-0.0478,0.18],[-0.0469,-0.12],[-0.0459,-0.04],[-0.0452,0.23],[-0.0445,0.15],[-0.0440,0.35],[-0.0422,0.11],[-0.0413,0.05],[-0.0404,0.20],[-0.0394,0.12],[-0.0387,0.41],[-0.0382,0.17],[-0.0374,0.07],[-0.0369,-0.16],[-0.0363,-0.21],[-0.0353,0.32],[-0.0346,-0.09],[-0.0329,0.13],[-0.0317,0.01],[-0.0309,-0.13],[-0.0298,0.50],[-0.0291,0.19],[-0.0278,-0.12],[-0.0271,-0.13],[-0.0262,0.13],[-0.0257,-0.34],[-0.0247,-0.17],[-0.0244,0.38],[-0.0233,-0.14],[-0.0215,0.35],[-0.0209,-0.34],[-0.0203,0.16],[-0.0189,-0.41],[-0.0175,-0.41],[-0.0168,-0.40],[-0.0155,-0.54],[-0.0148,-0.60],[-0.0141,-0.52],[-0.0134,-0.31],[-0.0126,-0.52],[-0.0119,-0.63],[-0.0114,-0.47],[-0.0109,-0.80],[-0.0100,-0.31],[-0.0091,-0.28],[-0.0085,-0.42],[-0.0071,-0.14],[-0.0061,-0.56],[-0.0045,-0.05],[-0.0032,0.08],[-0.0025,0.02],[-0.0011,0.03],[0.0000,0.19],
[0.0014,0.05],[0.0029,-0.06],[0.0041,-0.19],[0.0046,0.34],[0.0053,-0.07],[0.0058,0.22],[0.0063,0.19],[0.0074,0.03],[0.0082,-0.21],[0.0087,-0.29],[0.0092,-0.19],[0.0104,0.20],[0.0113,-0.09],[0.0123,-0.23],[0.0135,0.47],[0.0144,-0.14],[0.0154,0.19],[0.0161,-0.37],[0.0171,0.08],[0.0181,-0.09],[0.0195,-0.24],[0.0205,0.13],[0.0219,-0.07],[0.0227,0.20],[0.0246,0.03],[0.0253,-0.12],[0.0270,0.11],[0.0277,0.22],[0.0284,-0.15],[0.0298,-0.32],[0.0304,-0.14],[0.0318,0.19],[0.0325,-0.25],[0.0337,-0.13],[0.0351,0.23],[0.0359,0.33],[0.0373,0.29],[0.0380,-0.34],[0.0385,0.08],[0.0397,0.43],[0.0404,-0.11],[0.0414,-0.41],[0.0424,0.14],[0.0441,-0.22],[0.0445,-0.18],[0.0458,-0.06],[0.0463,0.22],[0.0474,-0.12],[0.0486,0.37],[0.0492,0.09],[0.0503,-0.02],[0.0510,0.14],[0.0515,-0.13],
[0.0527,0.17],[0.0533,0.23],[0.0538,0.01],[0.0545,-0.09],[0.0550,0.42],[0.0556,0.08],[0.0562,0.29],[0.0568,0.18],[0.0574,-0.28],[0.0579,-0.09],[0.0586,0.19],[0.0591,0.13],[0.0598,0.29],[0.0603,-0.19],[0.0615,0.34],[0.0621,-0.12],[0.0627,0.36],[0.0633,0.35],[0.0640,-0.19],[0.0647,0.19],[0.0652,0.14],[0.0657,0.48],[0.0669,-0.23],[0.0676,-0.09],[0.0685,0.13],[0.0692,0.47],[0.0698,-0.22],[0.0704,0.44],[0.0712,0.10],[0.0717,0.25],[0.0729,-0.15],[0.0738,0.07],[0.0746,0.25],[0.0753,0.05],[0.0763,-0.12],[0.0770,0.03],[0.0781,0.24],[0.0789,-0.10],[0.0798,0.25],[0.0805,-0.07],[0.0816,-0.18],[0.0823,-0.08],[0.0834,0.13],[0.0842,0.05],[0.0852,0.19],[0.0858,-0.07],[0.0864,0.11],[0.0876,0.41],[0.0883,0.21],[0.0890,-0.11],[0.0900,-0.17],[0.0911,0.31],[0.0919,-0.37],[0.0929,-0.33],[0.0935,-0.07],[0.0943,-0.18],[0.0948,0.13],[0.0958,0.34],[0.0972,0.25],[0.0979,-0.04],[0.0987,-0.24],[0.0999,-0.07],[0.1011,-0.22],[0.1018,-0.09],[0.1025,-0.22],[0.1037,0.28],[0.1047,-0.15],[0.1052,-0.34],[0.1056,0.15]
];

// ---------------- error-bar sizes ----------------
const tessPointErr = 0.0021;                                               // faint TESS bars
const aavsoErrByPhase = [[-0.020, 0.0090], [0.020, 0.0085], [1.0, 0.0090]]; // [upper phase bound, error]

// ---------------- legend text ----------------
const legendNames = ['AAVSO: 0.62 %', 'TESS: 0.20 %', 'TESS: 0.21 %', 'TESS: 0.19 %', 'TESS: 0.22 %', 'Binned Data: 0.03 %'];
const fitText1 = ' = 0.01025 \u00b1 0.00018';
const fitText2 = ' = 2460065.83803 \u00b1 0.00045 BJD';

// ======================================================================
// fit the 4250x3192 drawing to the actual viewport
(function fitViewport() {
  const vw = document.documentElement.clientWidth || window.innerWidth || 4250;
  const vh = document.documentElement.clientHeight || window.innerHeight || 3192;
  const sx = vw / 4250, sy = vh / 3192;
  if (Math.abs(sx - 1) > 0.002 || Math.abs(sy - 1) > 0.002) {
    document.getElementById('wrap').style.transform = 'scale(' + sx + ',' + sy + ')';
  }
})();

const FONT = 'DejaVu Sans';
Chart.defaults.font.family = FONT;
Chart.defaults.color = '#000';

function rgba(c, a) { return 'rgba(' + c[0] + ',' + c[1] + ',' + c[2] + ',' + a + ')'; }
function fmt(v, d) { const s = Math.abs(v).toFixed(d); return (v < -1e-9 ? '\u2212' : '') + s; }

// observed flux = model + residual (residual in %), model taken from the plotted curve
function modelAt(x) {
  for (let i = 1; i < modelPhase.length; i++) {
    if (x <= modelPhase[i]) {
      const t = (x - modelPhase[i - 1]) / (modelPhase[i] - modelPhase[i - 1]);
      return modelFlux[i - 1] + t * (modelFlux[i] - modelFlux[i - 1]);
    }
  }
  return modelFlux[modelFlux.length - 1];
}
function aavsoErr(x) { for (const [ub, e] of aavsoErrByPhase) { if (x < ub) return e; } return aavsoErrByPhase[aavsoErrByPhase.length - 1][1]; }

const RGB = { black: [0,0,0], blue: [0,0,255], green: [0,128,0], orange: [255,165,0], purple: [128,0,128] };
const tessSeries = [
  { rgb: RGB.blue,   rot: 180, resid: tessBlueResid,   bins: tessBlueBinned },
  { rgb: RGB.green,  rot: 0,   resid: tessGreenResid,  bins: tessGreenBinned },
  { rgb: RGB.orange, rot: 270, resid: tessOrangeResid, bins: tessOrangeBinned },
  { rgb: RGB.purple, rot: 90,  resid: tessPurpleResid, bins: tessPurpleBinned }
];

function pointDs(label, pts, o) {
  return Object.assign({
    label: label, data: pts, showLine: false, clip: 0,
    pointStyle: o.style, pointRotation: o.rot || 0,
    pointRadius: o.r, pointHoverRadius: o.r,
    pointBackgroundColor: o.fill, pointBorderColor: o.edge,
    pointBorderWidth: o.bw, pointHoverBorderWidth: o.bw
  }, o.extra || {});
}

// ---------------- plugins ----------------
const errorBarPlugin = {
  id: 'errorBars',
  beforeDatasetDraw(chart, args) {
    const ds = chart.data.datasets[args.index];
    if (!ds.errBars) return;
    const ctx = chart.ctx, a = chart.chartArea, sx = chart.scales.x, sy = chart.scales.y;
    ctx.save();
    ctx.beginPath(); ctx.rect(a.left, a.top, a.right - a.left, a.bottom - a.top); ctx.clip();
    ctx.strokeStyle = ds.errBars.color; ctx.lineWidth = ds.errBars.width; ctx.lineCap = 'butt';
    ds.data.forEach((p, i) => {
      const e = ds.errBars.values[i];
      const px = sx.getPixelForValue(p.x);
      ctx.beginPath();
      ctx.moveTo(px, sy.getPixelForValue(p.y - e));
      ctx.lineTo(px, sy.getPixelForValue(p.y + e));
      ctx.stroke();
    });
    ctx.restore();
  }
};
const framePlugin = {
  id: 'frame',
  afterDatasetsDraw(chart) {
    const ctx = chart.ctx, a = chart.chartArea;
    ctx.save(); ctx.strokeStyle = '#000'; ctx.lineWidth = 3;
    ctx.strokeRect(a.left, a.top, a.right - a.left, a.bottom - a.top);
    ctx.restore();
  }
};

function marker(ctx, style, rot, r, x, y, fill, edge, bw) {
  ctx.save(); ctx.fillStyle = fill; ctx.strokeStyle = edge; ctx.lineWidth = bw;
  if (Chart.helpers && Chart.helpers.drawPoint) {
    Chart.helpers.drawPoint(ctx, { pointStyle: style, rotation: rot, radius: r, borderWidth: bw }, x, y);
  } else {
    ctx.beginPath();
    if (style === 'circle') ctx.arc(x, y, r, 0, Math.PI * 2);
    else { let rad = rot * Math.PI / 180; for (let k = 0; k < 3; k++) { const px = x + Math.sin(rad) * r, py = y - Math.cos(rad) * r; k ? ctx.lineTo(px, py) : ctx.moveTo(px, py); rad += 2 * Math.PI / 3; } ctx.closePath(); }
    ctx.fill(); if (bw > 0) ctx.stroke();
  }
  ctx.restore();
}

const legendPlugin = {
  id: 'legendBox',
  afterDraw(chart) {
    const ctx = chart.ctx;
    const bx = 281, by = 1727, bw = 1005, bh = 522, rr = 9;
    ctx.save();
    ctx.beginPath();
    ctx.moveTo(bx + rr, by); ctx.lineTo(bx + bw - rr, by); ctx.quadraticCurveTo(bx + bw, by, bx + bw, by + rr);
    ctx.lineTo(bx + bw, by + bh - rr); ctx.quadraticCurveTo(bx + bw, by + bh, bx + bw - rr, by + bh);
    ctx.lineTo(bx + rr, by + bh); ctx.quadraticCurveTo(bx, by + bh, bx, by + bh - rr);
    ctx.lineTo(bx, by + rr); ctx.quadraticCurveTo(bx, by, bx + rr, by); ctx.closePath();
    ctx.fillStyle = 'rgba(255,255,255,0.8)'; ctx.fill();
    ctx.strokeStyle = '#cccccc'; ctx.lineWidth = 3.5; ctx.stroke();

    // model line sample
    ctx.strokeStyle = 'red'; ctx.lineWidth = 12; ctx.lineCap = 'butt';
    ctx.beginPath(); ctx.moveTo(293, 1802); ctx.lineTo(387, 1802); ctx.stroke();

    ctx.fillStyle = '#000'; ctx.textBaseline = 'alphabetic'; ctx.textAlign = 'left';
    const F = '40px "' + FONT + '"', FI = 'italic 40px "' + FONT + '"';
    const S = '28px "' + FONT + '"', SI = 'italic 28px "' + FONT + '"';
    function put(t, f, x, y) { ctx.font = f; ctx.fillText(t, x, y); return x + ctx.measureText(t).width; }
    function supsub(sup, sub, x, yb) {
      ctx.font = S; const w1 = ctx.measureText(sup).width; ctx.fillText(sup, x + 2, yb - 16);
      ctx.font = SI; const w2 = ctx.measureText(sub).width; ctx.fillText(sub, x, yb + 11);
      return x + Math.max(w1 + 2, w2) + 1;
    }
    // line 1: Rp^2/Rs^2
    let y1 = 1784, x = 416;
    x = put('R', FI, x, y1); x = supsub('2', 'p', x, y1);
    x = put('/', F, x, y1);
    x = put('R', FI, x, y1); x = supsub('2', 's', x, y1);
    put(fitText1, F, x + 4, y1);
    // line 2: Tmid
    let y2 = 1844; x = 418;
    x = put('T', FI, x, y2);
    ctx.font = SI; ctx.fillText('mid', x, y2 + 8); x += ctx.measureText('mid').width;
    x = put(fitText2, F, x + 2, y2);
    ctx.font = SI; ctx.fillText('TDB', x + 2, y2 + 8);

    // series entries
    const rowsY = [1898, 1959, 2020, 2083, 2146, 2210];
    const baseY = [1909, 1973, 2036, 2099, 2161, 2225];
    const mx = 340;
    ctx.strokeStyle = '#000'; ctx.lineWidth = 6;
    ctx.beginPath(); ctx.moveTo(mx, rowsY[0] - 21); ctx.lineTo(mx, rowsY[0] + 21); ctx.stroke();
    marker(ctx, 'circle', 0, 12.5, mx, rowsY[0], '#000', '#000', 2);
    tessSeries.forEach((s, i) => {
      const c = rgba(s.rgb, 1);
      ctx.strokeStyle = c; ctx.lineWidth = 6;
      ctx.beginPath(); ctx.moveTo(mx, rowsY[i + 1] - 21); ctx.lineTo(mx, rowsY[i + 1] + 21); ctx.stroke();
      marker(ctx, 'triangle', s.rot, 14.5, mx, rowsY[i + 1], c, c, 2);
    });
    marker(ctx, 'circle', 0, 29.5, mx, rowsY[5], '#fff', '#000', 5);
    ctx.fillStyle = '#000';
    legendNames.forEach((t, i) => put(t, F, 416, baseY[i]));
    ctx.restore();
  }
};

// ---------------- top panel datasets (bottom-most first) ----------------
const topDs = [];
{
  const pts = aavsoResid.map(([px, r]) => ({ x: px, y: modelAt(px) + r / 100 }));
  topDs.push(pointDs('AAVSO points', pts, { style: 'circle', r: 10.5, fill: 'rgba(0,0,0,0.1)', edge: 'rgba(0,0,0,0.1)', bw: 3,
    extra: { errBars: { values: pts.map(p => aavsoErr(p.x)), color: 'rgba(128,128,128,0.13)', width: 6 } } }));
}
tessSeries.forEach(s => {
  const pts = s.resid.map(([px, r]) => ({ x: px, y: modelAt(px) + r / 100 }));
  topDs.push(pointDs('TESS points', pts, { style: 'triangle', rot: s.rot, r: 14, fill: rgba(s.rgb, 0.1), edge: rgba(s.rgb, 0.1), bw: 3,
    extra: { errBars: { values: pts.map(() => tessPointErr), color: rgba(s.rgb, 0.065), width: 6 } } }));
});
topDs.push(pointDs('AAVSO binned', aavsoBinned.map(b => ({ x: b[0], y: b[1] })), { style: 'circle', r: 12.5, fill: '#000', edge: '#000', bw: 2,
  extra: { errBars: { values: aavsoBinned.map(b => b[2]), color: '#000', width: 6 } } }));
tessSeries.forEach(s => {
  const c = rgba(s.rgb, 1);
  topDs.push(pointDs('TESS binned', s.bins.map(b => ({ x: b[0], y: b[1] })), { style: 'triangle', rot: s.rot, r: 14.5, fill: c, edge: c, bw: 2,
    extra: { errBars: { values: s.bins.map(b => b[2]), color: c, width: 6 } } }));
});
topDs.push({ label: 'Model', data: modelPhase.map((p, i) => ({ x: p, y: modelFlux[i] })), showLine: true, clip: 0,
  borderColor: 'red', borderWidth: 12, pointRadius: 0, pointHoverRadius: 0, fill: false,
  cubicInterpolationMode: 'monotone', borderCapStyle: 'butt', borderJoinStyle: 'round' });
topDs.push(pointDs('Binned Data', binnedPhase.map((p, i) => ({ x: p, y: binnedFlux[i] })), { style: 'circle', r: 28.5, fill: '#fff', edge: '#000', bw: 5 }));
topDs.forEach((d, i) => { d.order = topDs.length - i; });

// ---------------- residual panel datasets ----------------
const botDs = [];
botDs.push(pointDs('AAVSO residuals', aavsoResid.map(([px, r]) => ({ x: px, y: r })), { style: 'circle', r: 10.5, fill: 'rgba(0,0,0,0.22)', edge: 'rgba(0,0,0,0.22)', bw: 3 }));
tessSeries.forEach(s => {
  botDs.push(pointDs('TESS residuals', s.resid.map(([px, r]) => ({ x: px, y: r })), { style: 'triangle', rot: s.rot, r: 14, fill: rgba(s.rgb, 0.25), edge: rgba(s.rgb, 0.25), bw: 3 }));
});
botDs.push(pointDs('Binned residuals', binnedPhase.map((p, i) => ({ x: p, y: binnedResid[i] })), { style: 'circle', r: 21.5, fill: '#fff', edge: '#000', bw: 5 }));
botDs.forEach((d, i) => { d.order = botDs.length - i; });

// ---------------- shared scale settings ----------------
function zeroPad(s) { s.paddingTop = 0; s.paddingBottom = 0; s.paddingLeft = 0; s.paddingRight = 0; }
const tickFont = { family: FONT, size: 40 };
const titleFont = { family: FONT, size: 57 };
const gridY = { color: '#b0b0b0', lineWidth: 3, drawTicks: true, tickLength: 14, tickColor: '#000', tickWidth: 3 };

new Chart(document.getElementById('cTop'), {
  type: 'scatter',
  data: { datasets: topDs },
  options: {
    responsive: false, animation: false, devicePixelRatio: 1, events: [],
    layout: { autoPadding: false, padding: { left: 0, right: 33, top: 30, bottom: 3 } },
    plugins: { legend: { display: false }, tooltip: { enabled: false } },
    scales: {
      x: { type: 'linear', min: phaseRange[0], max: phaseRange[1], display: false },
      y: {
        type: 'linear', min: fluxRange[0], max: fluxRange[1],
        afterBuildTicks: s => { s.ticks = fluxTicks.map(v => ({ value: v })); },
        afterFit: s => { s.width = 260; zeroPad(s); },
        ticks: { font: tickFont, color: '#000', padding: 17, autoSkip: false, callback: v => fmt(v, 3) },
        grid: gridY,
        border: { display: false, dash: [12, 5] },
        title: { display: true, text: 'Relative Flux', font: titleFont, color: '#000', padding: { top: 35, bottom: 0 } }
      }
    }
  },
  plugins: [errorBarPlugin, framePlugin, legendPlugin]
});

new Chart(document.getElementById('cBot'), {
  type: 'scatter',
  data: { datasets: botDs },
  options: {
    responsive: false, animation: false, devicePixelRatio: 1, events: [],
    layout: { autoPadding: false, padding: { left: 0, right: 33, top: 0, bottom: 0 } },
    plugins: { legend: { display: false }, tooltip: { enabled: false } },
    scales: {
      x: {
        type: 'linear', min: phaseRange[0], max: phaseRange[1], position: 'bottom',
        afterBuildTicks: s => { s.ticks = phaseTicks.map(v => ({ value: v })); },
        afterFit: s => { s.height = 175; zeroPad(s); },
        ticks: { font: tickFont, color: '#000', padding: 11, autoSkip: false, maxRotation: 0, minRotation: 0, callback: v => fmt(v, 3) },
        grid: { drawOnChartArea: false, drawTicks: true, tickLength: 14, tickColor: '#000', tickWidth: 3, color: '#000' },
        border: { display: false },
        title: { display: true, text: 'Phase', font: titleFont, color: '#000', padding: { top: 0, bottom: 23 } }
      },
      y: {
        type: 'linear', min: residRange[0], max: residRange[1],
        afterBuildTicks: s => { s.ticks = residTicks.map(v => ({ value: v })); },
        afterFit: s => { s.width = 260; zeroPad(s); },
        ticks: { font: tickFont, color: '#000', padding: 17, autoSkip: false, callback: v => fmt(v, 2) },
        grid: gridY,
        border: { display: false, dash: [12, 5] },
        title: { display: true, text: 'Residuals [%]', font: titleFont, color: '#000', padding: { top: 20, bottom: 0 } }
      }
    }
  },
  plugins: [errorBarPlugin, framePlugin]
});
</script>
</body>
</html>
